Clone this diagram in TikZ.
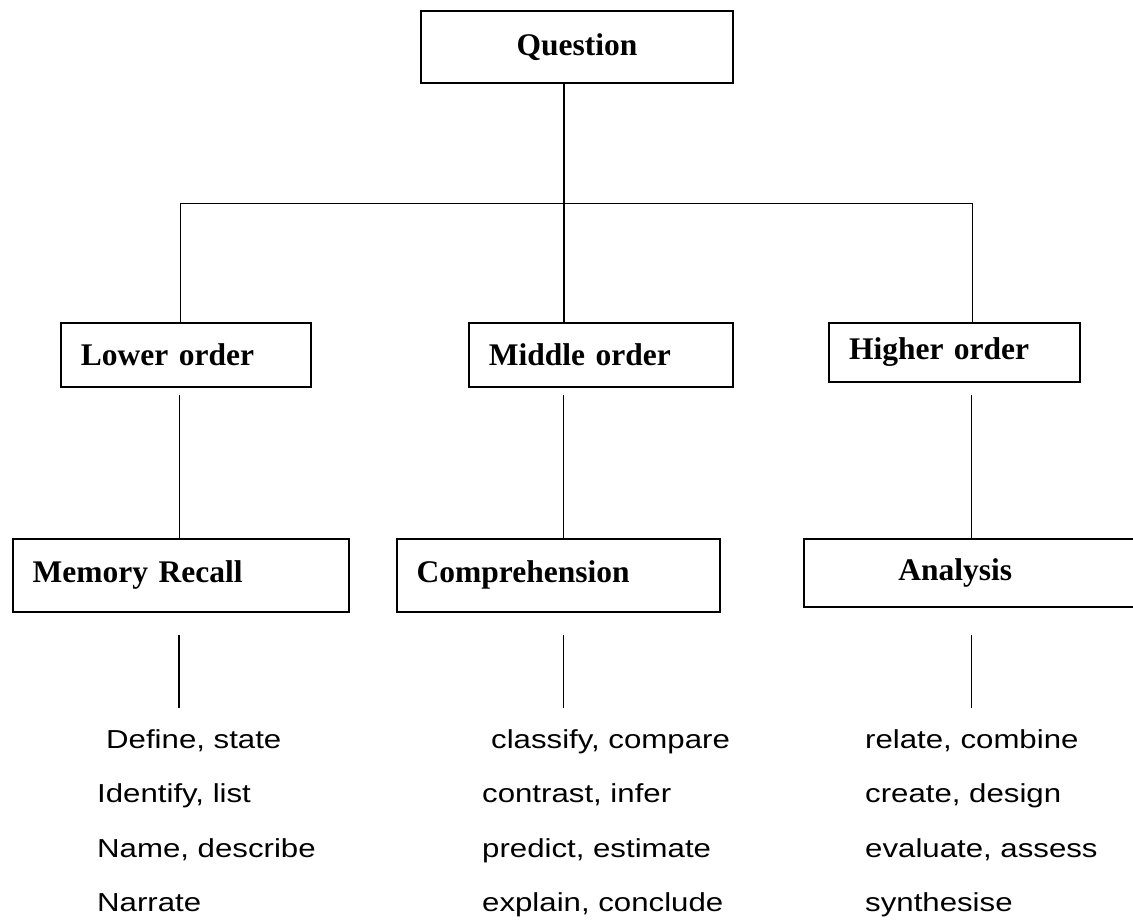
\documentclass[tikz,border=0pt]{standalone}
\usepackage{fontspec}
\setmainfont{Liberation Serif}
\newfontfamily\listfont[FakeStretch=1.2]{Liberation Sans}
\usetikzlibrary{positioning,calc}

\begin{document}
\begin{tikzpicture}[x=1pt,y=-1pt,
box/.style={draw,line width=2pt,inner xsep=20pt,inner ysep=0pt,align=left,font=\fontsize{31.5}{38}\selectfont\bfseries},
link/.style={line width=1.3pt},
words/.style={inner sep=0pt,align=left,anchor=base west,font=\listfont\fontsize{26}{54.5}\selectfont}]
\useasboundingbox (0,0) rectangle (1133,919);
\clip (0,0) rectangle (1133,919);
% boxes
\node[box,align=center,text width=272pt,minimum height=72.5pt] (quest) at (577,47.2) {Question};
\node[box,text width=210.5pt,minimum height=63.4pt] (low) at (186.2,355) {Lower order};
\node[box,text width=224.4pt,minimum height=63.4pt,right=155.5pt of low] (mid) {Middle order};
\node[box,text width=211pt,minimum height=58.4pt] (high) at (954.5,352.5) {Higher order};
\node[box,text width=296.6pt,minimum height=72.7pt] (recall) at (181,575.3) {Memory Recall};
\node[box,text width=283.7pt,minimum height=73pt,right=45.4pt of recall] (compr) {Comprehension};
\node[box,inner xsep=94pt,text width=160pt,minimum height=67.7pt] (anal) at (978.3,572.8) {Analysis};
% verb lists (anchored on the last line)
\node[words] (recallwords) at (97,911.5) {\hspace*{9pt}Define, state\\Identify, list\\Name, describe\\Narrate};
\node[words] (comprwords) at (482,911.5) {\hspace*{9pt}classify, compare\\contrast, infer\\predict, estimate\\explain, conclude};
\node[words] (analwords) at (865,911.5) {relate, combine\\create, design\\evaluate, assess\\synthesise};
% tree
\coordinate (barL) at (180.7,203.3);
\coordinate (hub) at (564,203.3);
\coordinate (barR) at (972.4,203.3);
\draw[link] (quest.south -| hub)--(mid.north -| hub);
\draw[link] (low.north -| barL)--(barL)--(barR)--(high.north -| barR);
% loose stubs between the rows
\coordinate (lowgap) at (179.5,395);
\coordinate (midgap) at (563.5,395);
\coordinate (highgap) at (971.7,395);
\draw[link] (lowgap)--(recall.north -| lowgap);
\draw[link] (midgap)--(compr.north -| midgap);
\draw[link] (highgap)--(anal.north -| highgap);
\coordinate (recalltop) at (179,635);
\coordinate (recallend) at (179,708.3);
\coordinate (comprtop) at (563.3,635);
\coordinate (comprend) at (563.3,708.3);
\coordinate (analtop) at (971.2,635);
\coordinate (analend) at (971.2,708.3);
\draw[link] (recalltop)--(recallend);
\draw[link] (comprtop)--(comprend);
\draw[link] (analtop)--(analend);
\end{tikzpicture}
\end{document}
